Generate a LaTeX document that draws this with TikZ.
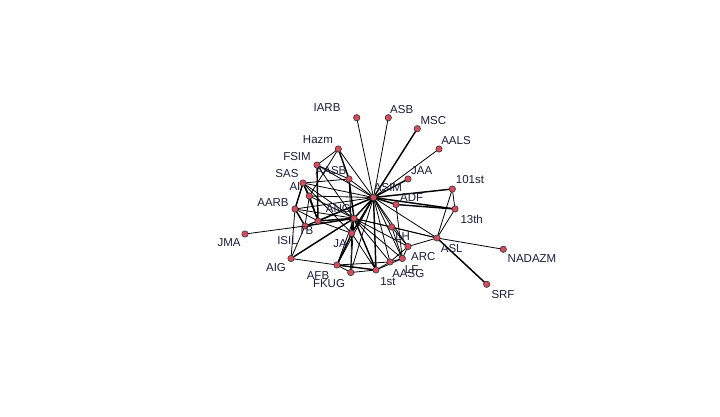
\documentclass[tikz,border=0pt]{standalone}
\usepackage{fontspec}
\setmainfont{Liberation Sans}
\usepackage{tikz}
\definecolor{vfill}{RGB}{214,76,92}
\definecolor{labcol}{RGB}{28,28,60}

\tikzset{
  vtx/.style={fill=vfill, draw=black!80, line width=0.6pt},
  lab/.style={text=labcol, font=\fontsize{11.5}{12}\selectfont, inner sep=0pt},
  tie/.style={line width=0.8pt},
  heavy/.style={line width=1.45pt}
}

\begin{document}
\begin{tikzpicture}[x=1pt, y=-1pt, line join = round, line cap = round]
\useasboundingbox[fill=white] (0,0) rectangle (720,417);
% vertices
\coordinate (iarb) at (356.7,117.7);
\coordinate (asb) at (388.3,117.7);
\coordinate (msc) at (417.3,128.7);
\coordinate (aals) at (439,149);
\coordinate (hazm) at (338.3,149);
\coordinate (fsim) at (317,165);
\coordinate (aasb) at (349,179);
\coordinate (jaa) at (408,179);
\coordinate (sas) at (303,183);
\coordinate (s101) at (452.3,189);
\coordinate (ai) at (309.3,196);
\coordinate (asim) at (373.5,197.5);
\coordinate (adf) at (396,204.5);
\coordinate (aarb) at (295,209);
\coordinate (s13) at (455,209);
\coordinate (tb) at (318,221);
\coordinate (ang) at (354,218.3);
\coordinate (isil) at (305,226);
\coordinate (lh) at (391.7,227);
\coordinate (ja) at (351.7,233.3);
\coordinate (jma) at (245,234);
\coordinate (asl) at (437,238);
\coordinate (arc) at (408,246.5);
\coordinate (nadazm) at (503.3,249.3);
\coordinate (aig) at (291,258.5);
\coordinate (lf) at (402.3,258.5);
\coordinate (aasg) at (390,262);
\coordinate (afb) at (337,265);
\coordinate (first) at (376,270);
\coordinate (fkug) at (350.7,272.5);
\coordinate (srf) at (486.7,284.3);

% ties of the hub
\draw[tie] (asim) -- (iarb);
\draw[tie] (asim) -- (asb);
\draw[heavy] (asim) -- (msc);
\draw[tie] (asim) -- (aals);
\draw[heavy] (asim) -- (jaa);
\draw[heavy] (asim) -- (s101);
\draw[heavy] (asim) -- (s13);
\draw[heavy] (asim) -- (adf);
\draw[tie] (asim) -- (hazm);
\draw[tie] (asim) -- (fsim);
\draw[tie] (asim) -- (aasb);
\draw[tie] (asim) -- (sas);
\draw[tie] (asim) -- (ai);
\draw[tie] (asim) -- (aarb);
\draw[heavy] (asim) -- (tb);
\draw[heavy] (asim) -- (ang);
\draw[tie] (asim) -- (isil);
\draw[tie] (asim) -- (lh);
\draw[heavy] (asim) -- (ja);
\draw[tie] (asim) -- (asl);
\draw[tie] (asim) -- (arc);
\draw[tie] (asim) -- (lf);
\draw[tie] (asim) -- (aasg);
\draw[heavy] (asim) -- (first);
\draw[tie] (asim) -- (afb);
\draw[tie] (asim) -- (fkug);

% left cluster
\draw[tie] (hazm) -- (fsim);
\draw[heavy] (hazm) -- (aasb);
\draw[tie] (hazm) -- (ai);
\draw[heavy] (fsim) -- (tb);
\draw[tie] (fsim) -- (aasb);
\draw[tie] (fsim) -- (ang);
\draw[heavy] (aasb) -- (ang);
\draw[tie] (aasb) -- (sas);
\draw[tie] (aasb) -- (ja);
\draw[heavy] (sas) -- (ai);
\draw[heavy] (sas) -- (aarb);
\draw[tie] (sas) -- (ang);
\draw[tie] (sas) -- (tb);
\draw[tie] (sas) -- (ja);
\draw[heavy] (ai) -- (tb);
\draw[tie] (ai) -- (ang);
\draw[tie] (ai) -- (isil);
\draw[heavy] (aarb) -- (isil);
\draw[tie] (aarb) -- (aig);
\draw[tie] (aarb) -- (ang);
\draw[tie] (aarb) -- (tb);
\draw[tie] (isil) -- (jma);
\draw[tie] (isil) -- (aig);
\draw[heavy] (isil) -- (ang);
\draw[tie] (isil) -- (tb);
\draw[heavy] (tb) -- (ang);
\draw[tie] (tb) -- (ja);
\draw[tie] (aig) -- (afb);
\draw[heavy] (aig) -- (ang);

% lower cluster
\draw[heavy] (ang) -- (ja);
\draw[tie] (ang) -- (afb);
\draw[heavy] (ang) -- (first);
\draw[tie] (ang) -- (lh);
\draw[tie] (ang) -- (arc);
\draw[tie] (ang) -- (aasg);
\draw[tie] (ang) -- (lf);
\draw[tie] (ang) -- (asl);
\draw[tie] (ang) -- (fkug);
\draw[heavy] (ja) -- (afb);
\draw[tie] (ja) -- (fkug);
\draw[tie] (ja) -- (first);
\draw[heavy] (afb) -- (first);
\draw[tie] (afb) -- (fkug);
\draw[tie] (afb) -- (aasg);
\draw[tie] (fkug) -- (first);
\draw[tie] (first) -- (aasg);
\draw[tie] (first) -- (lf);
\draw[tie] (lh) -- (arc);
\draw[tie] (lh) -- (asl);
\draw[tie] (lh) -- (lf);
\draw[tie] (arc) -- (asl);
\draw[tie] (arc) -- (aasg);
\draw[tie] (arc) -- (lf);
\draw[tie] (lf) -- (aasg);

% right side
\draw[heavy] (adf) -- (s13);
\draw[tie] (adf) -- (lf);
\draw[tie] (s101) -- (s13);
\draw[tie] (s101) -- (asl);
\draw[tie] (s13) -- (asl);
\draw[tie] (asl) -- (nadazm);
\draw[heavy] (asl) -- (srf);

% vertex dots
\foreach \v in {iarb,asb,msc,aals,hazm,fsim,aasb,jaa,sas,s101,ai,asim,adf,aarb,s13,tb,ang,isil,lh,ja,jma,asl,arc,nadazm,aig,lf,aasg,afb,first,fkug,srf}
  \draw[vtx] (\v) circle (3.2pt);

% labels
\node[lab] (l-iarb) at (327,108) {IARB};
\node[lab] (l-asb) at (401.7,109.5) {ASB};
\node[lab] (l-msc) at (433.3,120.7) {MSC};
\node[lab] (l-aals) at (456,140.7) {AALS};
\node[lab] (l-hazm) at (318,140) {Hazm};
\node[lab] (l-fsim) at (297,157) {FSIM};
\node[lab] (l-aasb) at (331,171) {AASB};
\node[lab] (l-jaa) at (421.7,171) {JAA};
\node[lab] (l-sas) at (287,174) {SAS};
\node[lab] (l-s101) at (470,180) {101st};
\node[lab] (l-ai) at (295,186.5) {AI};
\node[lab] (l-asim) at (388,188) {ASIM};
\node[lab] (l-adf) at (411.7,197.7) {ADF};
\node[lab] (l-aarb) at (273,202.5) {AARB};
\node[lab] (l-s13) at (471.7,219) {13th};
\node[lab] (l-ang) at (338.3,209) {ANG};
\node[lab] (l-tb) at (306,231) {TB};
\node[lab] (l-isil) at (287.5,240.5) {ISIL};
\node[lab] (l-lh) at (402.7,236.5) {LH};
\node[lab] (l-ja) at (340,243.5) {JA};
\node[lab] (l-jma) at (229,243) {JMA};
\node[lab] (l-asl) at (451.7,249) {ASL};
\node[lab] (l-arc) at (423.3,256.7) {ARC};
\node[lab] (l-nadazm) at (532,259) {NADAZM};
\node[lab] (l-aig) at (276,268) {AIG};
\node[lab] (l-lf) at (411.7,269.3) {LF};
\node[lab] (l-aasg) at (408.3,273.3) {AASG};
\node[lab] (l-afb) at (318,275.5) {AFB};
\node[lab] (l-first) at (388,281.7) {1st};
\node[lab] (l-fkug) at (329,284) {FKUG};
\node[lab] (l-srf) at (503,295) {SRF};
\end{tikzpicture}
\end{document}
